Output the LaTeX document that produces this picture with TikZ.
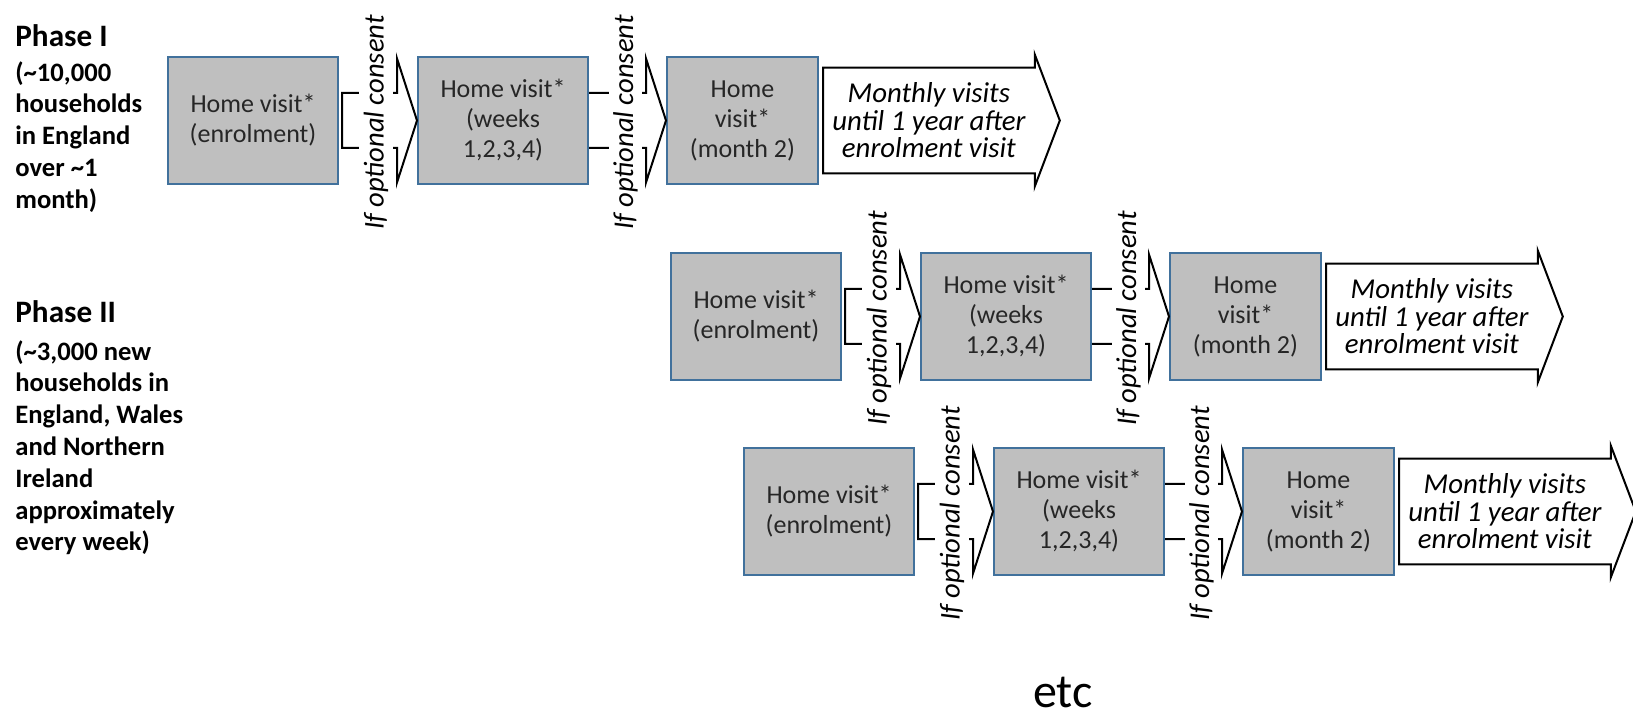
\documentclass[tikz,border=0pt]{standalone}
\usepackage{fontspec}
\setmainfont{Carlito}
\usetikzlibrary{positioning,calc}
\definecolor{boxgray}{RGB}{191,191,191}
\definecolor{boxblue}{RGB}{65,113,156}
\tikzset{
  visit/.style={draw=boxblue,fill=boxgray,line width=1pt,minimum height=63.5pt,minimum width=85pt,
    align=center,inner sep=0pt,font=\fontsize{13}{15}\selectfont,text=black!85},
  blockarr/.style={draw=black,line width=1pt,line join=miter},
  consent/.style={fill=white,rotate=90,inner xsep=1pt,inner ysep=2.2pt,font=\fontsize{14.3}{16}\selectfont\itshape},
  monthly/.style={minimum width=105.5pt,minimum height=52.5pt,inner sep=0pt,align=center,
    font=\fontsize{14.4}{13.7}\selectfont\itshape},
  phase/.style={align=left,inner sep=0pt,font=\fontsize{13.3}{15.9}\selectfont\bfseries}
}
\begin{document}
\begin{tikzpicture}[x=0.5pt,y=0.5pt]
\useasboundingbox (0,0) rectangle (1633,-716);
% phases
\node[phase,anchor=north west] (ph1) at (15,-24) {{\fontsize{15.6}{18}\selectfont Phase I}\\[1.5pt]
  (\textasciitilde10,000\\households\\in England\\over \textasciitilde1\\month)};
\node[phase,anchor=north west] (ph2) at (15,-300) {{\fontsize{15.6}{18}\selectfont Phase II}\\[3pt]
  (\textasciitilde3,000 new\\households in\\England, Wales\\and Northern\\Ireland\\approximately\\every week)};
% one row of visits per start
\foreach \r/\x/\y in {1/167/56,2/670/252,3/743/447}{
  \node[visit,anchor=north west] (b\r1) at (\x,-\y) {Home visit*\\(enrolment)};
  \node[visit,right=39pt of b\r1] (b\r2) {Home visit*\\(weeks\\1,2,3,4)};
  \node[visit,minimum width=75.5pt,right=38.5pt of b\r2] (b\r3) {Home\\visit*\\(month 2)};
  \node[monthly,right=2pt of b\r3] (m\r) {Monthly visits\\until 1 year after\\enrolment visit};
  \draw[blockarr] ($(b\r1.east)+(3,27.5)$) -- ($(b\r2.west)+(-20,27.5)$) -- ++(0,34.5) -- (b\r2.west)
    -- ($(b\r2.west)+(-20,-62)$) -- ++(0,34.5) -- ($(b\r1.east)+(3,-27.5)$) -- cycle;
  \draw[blockarr] ($(b\r2.east)+(0,27.5)$) -- ($(b\r3.west)+(-20,27.5)$) -- ++(0,34.5) -- (b\r3.west)
    -- ($(b\r3.west)+(-20,-62)$) -- ++(0,34.5) -- ($(b\r2.east)+(0,-27.5)$);
  \draw[blockarr] (m\r.north west) -- (m\r.north east) -- ++(0,13) -- ($(m\r.east)+(25,0)$)
    -- ($(m\r.south east)+(0,-13)$) -- (m\r.south east) -- (m\r.south west) -- cycle;
  \node[consent] (c\r1) at ($(b\r1.east)!0.5!(b\r2.west)+(-2,-2)$) {If optional consent};
  \node[consent] (c\r2) at ($(b\r2.east)!0.5!(b\r3.west)+(-2,-2)$) {If optional consent};
}
\node[font=\fontsize{24}{28}\selectfont,anchor=base,inner sep=0pt] (etc) at (1063,-707) {etc};
\end{tikzpicture}
\end{document}
